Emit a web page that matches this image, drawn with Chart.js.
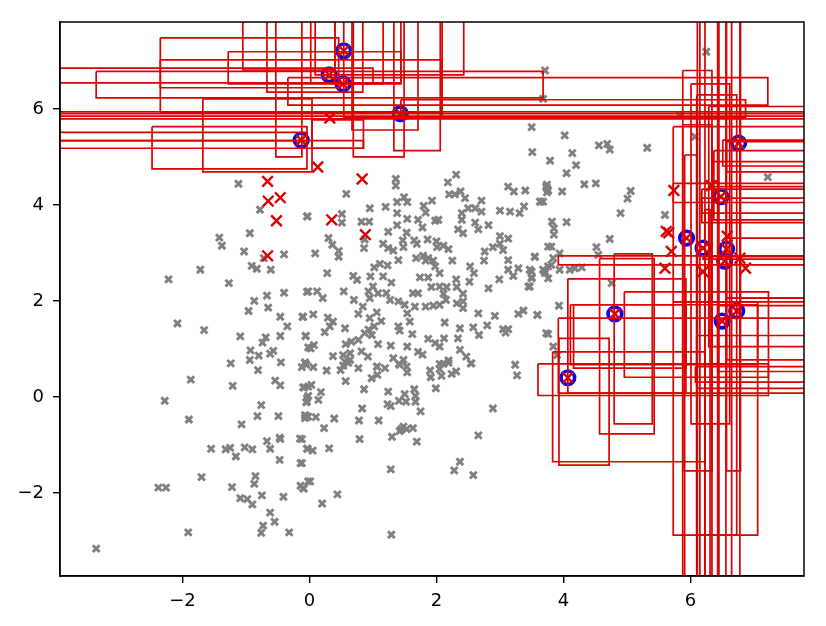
<!DOCTYPE html>
<html>
<head>
<meta charset="utf-8">
<style>html,body{margin:0;padding:0;background:#fff}canvas{display:block}</style>
<script src="https://cdn.jsdelivr.net/npm/chart.js@4"></script>
</head>
<body>
<div style="width:826px;height:626px"><canvas id="c" width="826" height="626"></canvas></div>
<script>
const xTickValues = [-2, 0, 2, 4, 6];
const yTickValues = [-2, 0, 2, 4, 6];
const xRange = [-3.93, 7.79];
const yRange = [-3.73, 7.81];

const greyPoints = [
[-3.36,-3.16],[-1.91,-2.82],[-2.38,-1.89],[-2.26,-1.89],[-1.70,-1.67],[-1.87,0.36],[-2.28,-0.08],[-1.90,-0.47],[-1.55,-1.08],[-1.32,-1.09],[-1.25,-1.06],[-1.16,-1.24],[-1.02,-1.05],[-0.90,-1.09],[-0.67,-0.92],[-0.62,-1.08],[-0.47,-0.85],[-0.46,-0.88],[-0.15,-0.87],[-0.04,-1.08],[-0.47,-1.31],[-0.14,-1.38],[-1.07,-0.57],[-0.82,-0.40],[-0.49,-0.40],[-0.06,-0.40],[-0.02,-0.41],[-0.76,-0.17],[-1.21,0.23],[-0.54,0.34],[-0.46,0.24],[-0.81,0.56],[-0.08,0.20],[-0.02,0.215],[-0.04,-0.03],[-0.04,-0.10],[-1.24,0.70],[-0.94,0.77],[-0.45,0.72],[-0.12,0.62],[-0.05,0.67],[-1.22,-1.88],[-0.85,-1.65],[-0.87,-1.81],[-1.09,-2.11],[-0.98,-2.13],[-0.90,-2.24],[-0.75,-2.05],[-0.41,-2.08],[-0.14,-1.85],[-0.09,-1.91],[-0.02,-1.76],[-0.62,-2.41],[-0.55,-2.60],[-0.73,-2.68],[-0.76,-2.83],[-0.32,-2.82],
[-0.07,0.72],[0.06,0.62],[0.27,0.55],[0.49,0.56],[0.53,0.65],[0.61,0.71],[0.77,0.60],[0.57,0.33],[0.86,0.16],[0.98,0.39],[1.07,0.46],[1.07,0.63],[1.19,0.60],[1.41,0.69],[1.53,0.63],[1.54,0.51],[1.90,0.55],[1.91,0.41],[2.05,0.58],[2.08,0.44],[2.11,0.69],[2.19,0.71],[2.24,0.48],[2.31,0.53],[2.54,0.70],[3.24,0.67],[3.27,0.45],[1.99,0.18],[1.65,0.16],[1.67,0.02],[1.67,-0.10],[1.50,0.06],[1.41,-0.08],[1.52,-0.10],[1.24,0.11],[1.23,-0.15],[1.28,-0.19],[1.75,-0.30],[0.83,-0.24],[0.78,-0.49],[1.09,-0.49],[0.39,-0.45],[0.10,-0.42],[-0.07,-0.38],[-0.03,-0.41],[-0.07,-0.44],[0.23,-0.65],[-0.10,0.20],[0.03,0.25],[0.18,0.10],[-0.02,0.02],[0.14,-0.06],[-0.05,-0.11],[0.79,-0.88],[-0.12,-0.88],[-0.03,-1.08],[0.05,-1.12],[0.31,-1.07],[-0.12,-1.38],[1.28,-1.51],[0.01,-1.76],[-0.10,-1.90],[0.44,-2.03],[0.20,-2.22],[1.29,-2.87],[2.28,-1.53],[2.37,-1.35],[2.58,-1.63],[2.66,-0.80],[2.89,-0.24],[1.69,-0.93],[1.30,-0.83],[1.42,-0.71],[1.48,-0.62],[1.45,-0.67],[1.53,-0.67],[1.63,-0.65],
[-1.12,4.44],[-0.78,3.90],[-0.04,3.76],[-0.94,3.41],[-1.42,3.32],[-1.38,3.15],[-1.03,3.03],[-0.72,2.89],[-0.40,2.97],[-0.91,2.73],[-0.83,2.67],[-0.61,2.65],[-1.72,2.65],[-2.22,2.45],[-1.27,2.37],[-0.67,2.11],[-0.40,2.17],[-0.04,2.19],[-0.87,2.00],[-0.65,1.86],[-0.96,1.79],[-0.46,1.67],[-0.11,1.67],[-0.35,1.47],[-2.08,1.53],[-1.66,1.39],[-1.09,1.26],[-0.69,1.24],[-0.74,1.13],[-0.46,1.27],[-0.06,1.27],[-0.93,0.97],[-0.80,0.86],[-0.57,0.96],[-0.62,0.90],[-0.02,1.03],
[0.58,4.23],[-0.03,3.76],[0.51,3.81],[0.51,3.63],[0.95,3.93],[0.82,3.65],[0.94,3.65],[1.20,3.96],[1.36,4.54],[1.36,4.40],[1.38,4.06],[1.49,4.16],[1.54,4.06],[1.38,3.83],[1.54,3.71],[1.38,3.58],[1.24,3.44],[1.53,3.42],[1.71,3.69],[1.78,3.53],[1.80,3.98],[1.93,4.09],[1.83,3.84],[1.98,3.67],[2.03,3.69],[2.18,4.47],[2.31,4.63],[2.20,4.22],[2.29,4.22],[2.38,4.28],[2.45,4.14],[2.71,4.09],[2.50,3.93],[2.61,3.93],[2.71,3.86],[2.40,3.83],[2.40,3.69],[2.61,3.63],[2.66,3.49],[2.82,3.58],[3.00,3.88],[3.16,3.86],[3.31,3.83],[3.38,3.97],[3.13,4.38],[3.22,4.28],[3.40,4.30],[3.73,4.38],[3.76,4.30],[3.64,4.07],[3.68,4.07],[2.34,3.49],[2.42,3.41],[0.30,3.31],[0.36,3.17],[0.46,3.04],[0.46,2.92],[0.09,2.99],[0.87,3.28],[0.86,3.10],[1.16,3.19],[1.24,3.10],[1.32,3.05],[1.47,3.26],[1.48,3.12],[1.65,3.26],[1.69,3.19],[1.86,3.28],[2.00,3.24],[2.01,3.12],[2.11,3.15],[2.19,3.08],[1.40,2.85],[1.11,2.77],[1.02,2.70],[1.23,2.74],[1.68,2.89],[1.79,2.94],[1.87,2.89],[1.83,2.84],[1.95,2.84],[1.98,2.72],[2.05,2.58],[2.25,2.84],[2.53,2.72],[2.59,2.58],[2.52,2.40],[2.31,2.45],[0.28,2.58],[0.69,2.52],[0.75,2.44],[0.96,2.51],[1.16,2.51],[1.29,2.38],[1.74,2.49],[1.87,2.49],[2.76,3.03],[2.89,3.12],[3.00,3.19],[3.13,3.30],[3.00,3.35],[3.05,3.06],[3.13,2.85],[2.75,2.84],[3.55,2.92],[3.29,2.68],[3.13,2.65],[3.21,2.52],[3.47,2.65],[3.50,2.49],[3.71,2.61],[3.76,2.47],[3.76,3.13],[2.99,2.45],[2.82,2.26],[3.45,2.30],[-0.02,2.20],[0.12,2.20],[0.21,2.06],[0.54,2.20],[0.70,2.02],[0.84,1.88],[0.77,1.73],[0.93,2.20],[1.00,2.30],[0.95,2.06],[1.08,2.16],[1.21,2.16],[1.27,2.02],[1.40,1.99],[1.50,1.92],[1.63,2.16],[1.71,2.16],[1.66,1.88],[1.54,1.74],[1.58,1.57],[1.83,1.88],[1.95,1.90],[2.05,1.92],[1.92,2.29],[2.05,2.30],[2.16,2.29],[2.11,2.15],[2.32,2.29],[2.42,2.15],[2.32,1.95],[2.42,1.99],[2.42,1.85],[2.15,2.02],[2.66,1.74],[2.92,1.69],[3.29,1.73],[3.37,1.80],[3.59,1.71],[2.13,1.55],[2.37,1.43],[2.58,1.45],[2.80,1.49],[2.67,1.29],[2.34,1.22],[3.05,1.41],[3.13,1.41],[3.09,1.34],[3.73,1.33],[-0.10,1.67],[0.06,1.72],[0.29,1.65],[0.37,1.57],[0.32,1.47],[0.24,1.35],[0.56,1.43],[-0.06,1.27],[0.07,1.08],[0.02,1.01],[0.57,1.10],[0.66,1.15],[0.77,1.19],[0.93,1.40],[0.87,1.33],[0.98,1.29],[0.95,1.64],[1.06,1.76],[1.13,1.58],[1.02,1.47],[1.08,1.10],[1.28,1.07],[1.40,1.47],[1.42,1.38],[1.62,1.31],[1.54,1.05],[1.71,0.94],[1.78,0.88],[1.87,1.21],[1.98,1.12],[2.05,1.05],[2.12,1.22],[2.37,0.98],[2.47,0.84],[2.55,0.70],[2.19,0.76],[2.05,0.69],[0.37,0.85],[0.53,0.87],[0.64,0.91],[0.56,0.73],[0.64,0.77],[0.82,0.95],[0.92,0.84],[1.32,0.81],[1.48,0.77],[1.42,0.67],[-0.07,0.71],[1.06,0.63],
[3.71,6.80],[3.68,6.21],[6.25,7.19],[5.83,5.87],[6.07,5.42],[3.50,5.62],[4.02,5.45],[4.56,5.24],[4.69,5.27],[4.73,5.15],[5.32,5.19],[3.51,5.10],[4.14,5.08],[3.79,4.92],[4.20,4.83],[4.05,4.66],[4.33,4.43],[4.51,4.45],[3.74,4.42],[3.74,4.35],[3.74,4.26],[3.98,4.28],[5.06,4.29],[5.01,4.13],[3.63,4.07],[4.90,3.83],[5.60,3.79],[3.82,3.65],[4.05,3.64],[3.85,3.51],[3.85,3.38],[4.73,3.29],[3.81,3.13],[4.52,3.12],[4.55,2.96],[3.94,2.99],[3.55,2.92],[3.84,2.89],[3.76,2.72],[3.81,2.75],[3.71,2.58],[3.68,2.65],[3.94,2.65],[4.10,2.65],[4.18,2.68],[4.29,2.70],[3.50,2.61],[3.50,2.47],[4.76,2.37],[7.22,4.58],[3.47,2.30],[3.93,1.90],[3.59,1.71],[3.76,1.31],[3.84,1.05],[3.90,0.87]
];

const bluePoints = [
[-0.13,5.35],[0.54,7.21],[0.31,6.71],[0.53,6.52],[1.43,5.90],[6.76,5.29],[6.48,4.17],[5.94,3.31],[6.20,3.10],[6.57,3.08],[6.54,2.83],[4.81,1.73],[6.50,1.58],[6.73,1.79],[4.07,0.40]
];

const redPoints = [
[-0.66,4.49],[-0.65,4.08],[-0.46,4.15],[-0.52,3.67],[-0.66,2.94],[0.35,3.69],[0.88,3.38],[0.83,4.54],[0.13,4.79],[0.32,5.81],[5.74,4.30],[5.62,3.45],[5.66,3.42],[5.70,3.03],[5.60,2.68],[6.33,4.40],[6.58,3.35],[6.20,2.61],[6.87,2.68],[6.78,2.89],
[-0.13,5.35],[0.54,7.21],[0.31,6.71],[0.53,6.52],[1.43,5.90],[6.76,5.29],[6.48,4.17],[5.94,3.31],[6.20,3.10],[6.57,3.08],[6.54,2.83],[4.81,1.73],[6.50,1.58],[6.73,1.79],[4.07,0.40]
];

// each box: left, top, right, bottom in data units
const redBoxes = [
[-2.35,7.48,0.46,6.44],[-2.35,7.02,2.07,5.92],[-1.28,7.19,1.44,6.52],[-3.36,6.78,3.68,6.23],[-5,6.85,1.00,6.54],[-0.34,6.65,7.22,6.08],[-1.68,6.21,0.04,4.69],[-2.48,5.63,-0.04,4.75],
[-1.05,9,0.40,6.81],[-0.67,9,0.84,6.35],[-0.53,9,-0.12,5.00],[0.02,9,1.44,6.54],[0.09,9,2.43,6.71],[0.69,9,1.49,5.00],[0.67,9,1.71,5.56],[1.33,9,2.06,5.13],[0.40,9,1.16,6.52],[0.54,9,2.09,5.83],
[1.44,6.19,6.87,5.83],[-5,5.94,9,5.90],[-5,5.85,9,5.79],[-5,5.51,-0.04,5.34],[-5,5.34,0.85,5.18],[0.04,5.77,0.85,5.18],
[5.88,6.80,6.34,-1.54],[6.01,6.52,6.62,-0.56],[6.10,6.29,6.73,-2.88],[5.73,5.63,9,1.98],[5.73,1.98,7.06,-2.88],[5.88,5.67,6.34,-5],[5.91,5.04,6.10,-5],[6.11,9,6.23,-5],[6.15,9,6.43,-5],[6.45,9,6.65,-5],[6.56,9,6.78,-5],[6.57,9,6.79,-1.54],[6.23,3.9,6.31,-5],
[6.29,6.05,9,1.05],[6.51,5.35,9,4.81],[6.57,5.32,9,4.69],[6.37,5.13,9,3.69],[6.34,4.90,9,4.38],[6.18,4.33,9,3.63],[5.73,4.45,9,4.05],[6.18,4.14,9,3.83],[6.57,3.31,9,2.06],[3.92,2.94,9,2.75],[6.20,2.92,9,2.87],[6.57,2.06,9,0.77],[6.43,1.90,9,0.53],[3.92,1.64,9,0.08],[6.10,1.28,9,0.18],[6.08,0.63,9,0.31],
[4.57,2.88,5.43,-0.77],[4.80,2.98,5.40,-0.56],[4.07,2.46,5.93,0.08],[4.96,2.19,7.23,0.41],[4.11,1.92,7.06,0.67],[4.16,1.92,5.93,0.60],[3.93,1.22,4.72,-1.42],[3.83,0.94,6.23,-1.35],[3.60,0.69,7.23,0.03]
];

const toXY = p => ({x:p[0], y:p[1]});
const boxPath = b => [[b[0],b[1]],[b[2],b[1]],[b[2],b[3]],[b[0],b[3]],[b[0],b[1]]].map(toXY);

const RED = '#dc0000';
const datasets = [
  {data:redPoints.map(toXY), pointStyle:'crossRot', pointRadius:7.5, borderColor:RED, pointBorderColor:RED, pointBorderWidth:2.4, showLine:false, order:0},
  ...redBoxes.map(b => ({data:boxPath(b), showLine:true, fill:false, pointRadius:0, borderColor:RED, borderWidth:1.7, tension:0, clip:0, order:1})),
  {data:bluePoints.map(toXY), pointStyle:'circle', pointRadius:6.8, pointBackgroundColor:'rgba(0,0,0,0)', pointBorderColor:'#0000ff', pointBorderWidth:3.6, showLine:false, order:2},
  {data:greyPoints.map(toXY), pointStyle:'crossRot', pointRadius:4.8, pointBorderColor:'#808080', pointBorderWidth:2.9, showLine:false, order:3}
];

const tickFont = {family:'"DejaVu Sans"', size:18};
const fmt = v => String(v).replace('-', '\u2212');

const frame = {
  id:'frame',
  afterDraw(chart){
    const {ctx, chartArea:a} = chart;
    ctx.save();
    ctx.strokeStyle = '#000';
    ctx.lineWidth = 1.5;
    ctx.strokeRect(a.left, a.top, a.right-a.left, a.bottom-a.top);
    ctx.restore();
  }
};

new Chart(document.getElementById('c'), {
  type:'scatter',
  data:{datasets},
  plugins:[frame],
  options:{
    responsive:false,
    animation:false,
    layout:{padding:{top:22, right:22, left:0, bottom:0}},
    plugins:{legend:{display:false}, tooltip:{enabled:false}, title:{display:false}},
    scales:{
      x:{
        type:'linear', min:xRange[0], max:xRange[1],
        afterBuildTicks:s => { s.ticks = xTickValues.map(v=>({value:v})); },
        afterFit:s => { s.height = 50; },
        grid:{drawOnChartArea:false, drawTicks:true, tickLength:7, color:'#000', lineWidth:1.4},
        border:{display:true, color:'#000', width:1.5},
        ticks:{color:'#000', font:tickFont, padding:8, maxRotation:0, autoSkip:false, callback:fmt}
      },
      y:{
        type:'linear', min:yRange[0], max:yRange[1],
        afterBuildTicks:s => { s.ticks = yTickValues.map(v=>({value:v})); },
        afterFit:s => { s.width = 60; },
        grid:{drawOnChartArea:false, drawTicks:true, tickLength:7, color:'#000', lineWidth:1.4},
        border:{display:true, color:'#000', width:1.5},
        ticks:{color:'#000', font:tickFont, padding:9, autoSkip:false, callback:fmt}
      }
    }
  }
});
</script>
</body>
</html>
